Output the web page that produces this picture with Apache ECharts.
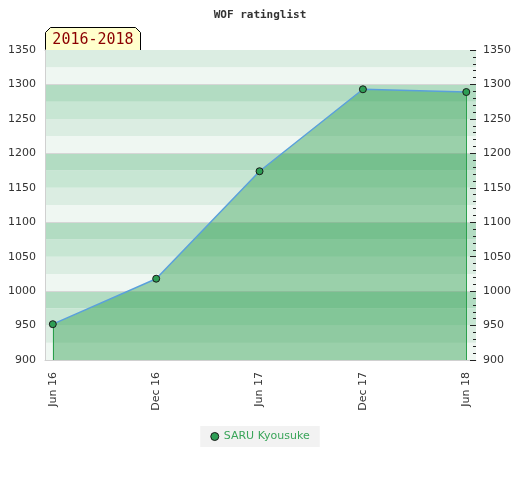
<!DOCTYPE html>
<html>
<head>
<meta charset="utf-8">
<script src="https://cdn.jsdelivr.net/npm/echarts@6/dist/echarts.min.js"></script>
<style>html,body{margin:0;padding:0;background:#fff}#c{width:520px;height:480px}</style>
</head>
<body>
<div id="c"></div>
<script>
var categories = ['Jun 16', 'Dec 16', 'Jun 17', 'Dec 17', 'Jun 18'];
var ratings = [952, 1018, 1174, 1293, 1289];
var seriesName = 'SARU Kyousuke';
var yTicks = [900, 950, 1000, 1050, 1100, 1150, 1200, 1250, 1300, 1350];
var chartTitle = 'WOF ratinglist';
var periodLabel = '2016-2018';

var yMin = yTicks[0], yMax = yTicks[yTicks.length - 1];
var bandColors = ['#eff7f2', '#dbede2', '#c7e6d3', '#b2dcc2'];
var bands = [];
for (var b = yMin; b < yMax; b += 25) {
  bands.push([{ yAxis: b, itemStyle: { color: bandColors[((b % 100) / 25)], opacity: 1 } }, { yAxis: b + 25 }]);
}
var hundredLines = [];
for (var h = yMin; h <= yMax; h += 100) {
  if (h % 100 === 0 && h > yMin && h < yMax) hundredLines.push({ yAxis: h });
}
var data = ratings.map(function (v, i) { return [i, v]; });
var last = ratings.length - 1;
function plain(v) { return String(v); }

var chart = echarts.init(document.getElementById('c'), null, { renderer: 'canvas' });
chart.setOption({
  animation: false,
  title: {
    text: chartTitle, left: 'center', top: 5,
    textStyle: { fontFamily: 'DejaVu Sans Mono', fontWeight: 'bold', fontSize: 11, color: '#333' }
  },
  legend: {
    data: [{ name: seriesName, icon: 'circle', itemStyle: { borderWidth: 1 } }],
    bottom: 33, left: 'center',
    backgroundColor: '#f2f2f2', padding: [5, 10],
    itemWidth: 8, itemHeight: 8, itemGap: 6,
    textStyle: { fontFamily: 'DejaVu Sans', fontSize: 11, color: '#3aa55a' }
  },
  grid: { left: 45, right: 44, top: 50, bottom: 120, containLabel: false },
  xAxis: [{
    type: 'value', min: -0.0755, max: 4.094,
    axisLine: { show: true, onZero: false, lineStyle: { color: '#d0d0d0' } },
    axisTick: { show: false },
    splitLine: { show: false },
    axisLabel: {
      customValues: categories.map(function (c, i) { return i; }),
      formatter: function (v) { return categories[Math.round(v)] || ''; },
      rotate: 90, margin: 12, fontFamily: 'DejaVu Sans', fontSize: 11, color: '#333'
    }
  }, {
    type: 'value', position: 'top', min: -0.0755, max: 4.094,
    axisLine: { show: true, onZero: false, lineStyle: { color: '#d0d0d0' } },
    axisTick: { show: false }, axisLabel: { show: false }, splitLine: { show: false }
  }],
  yAxis: [{
    type: 'value', min: yMin, max: yMax, interval: 50, position: 'left', z: 10,
    axisLine: { show: true, onZero: false, lineStyle: { color: '#d0d0d0' } },
    axisTick: { show: false },
    splitLine: { show: false },
    axisLabel: { margin: 9, fontFamily: 'DejaVu Sans', fontSize: 11, color: '#333', formatter: plain }
  }, {
    type: 'value', min: yMin, max: yMax, interval: 50, position: 'right', z: 10,
    axisLine: { show: false, onZero: false },
    axisTick: { show: true, inside: true, length: 6, lineStyle: { color: '#222' } },
    minorTick: { show: true, splitNumber: 5, length: 3, lineStyle: { color: '#222' } },
    splitLine: { show: false },
    axisLabel: { margin: 7, fontFamily: 'DejaVu Sans', fontSize: 11, color: '#333', formatter: plain }
  }],
  series: [{
    name: 'bg', type: 'line', data: data, silent: true,
    symbol: 'none', lineStyle: { opacity: 0 }, z: 0,
    markArea: { silent: true, z: 1, data: bands },
    markLine: {
      silent: true, z: 1.5, symbol: 'none', label: { show: false },
      lineStyle: { color: '#d6d6d6', width: 1, type: 'solid' }, data: hundredLines
    }
  }, {
    name: seriesName, type: 'line', data: data, z: 2,
    symbol: 'circle', symbolSize: 7,
    itemStyle: { color: '#2e9e55', borderColor: '#1a1a1a', borderWidth: 1 },
    lineStyle: { color: '#5aa0dc', width: 1.5 },
    areaStyle: { color: 'rgb(34,154,67)', opacity: 0.41, origin: 'start' },
    markLine: {
      silent: true, symbol: 'none', label: { show: false }, z: 1.9,
      lineStyle: { color: '#2ea350', width: 1, type: 'solid' },
      data: [
        [{ coord: [0, yMin] }, { coord: [0, ratings[0]] }],
        [{ coord: [last, yMin] }, { coord: [last, ratings[last]] }]
      ]
    }
  }],
  graphic: [{
    type: 'group', left: 45, top: 27,
    children: [{
      type: 'polygon',
      shape: { points: [[0, 23], [0, 5], [5, 0], [90, 0], [95, 5], [95, 23]] },
      style: { fill: '#ffffcc', stroke: '#000', lineWidth: 1 }
    }, {
      type: 'text', x: 47.5, y: 13,
      style: { text: periodLabel, fill: '#8b0000', font: '15px "DejaVu Sans Mono"', align: 'center', verticalAlign: 'middle' }
    }]
  }]
});
</script>
</body>
</html>
